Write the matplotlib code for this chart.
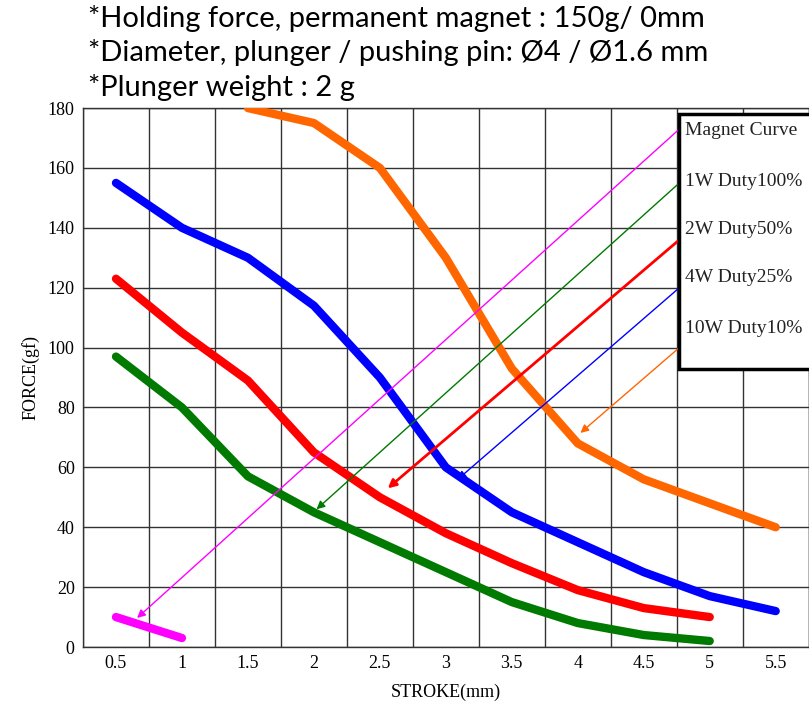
import numpy as np
import matplotlib
matplotlib.use('Agg')
import matplotlib.pyplot as plt
from matplotlib.patches import Rectangle

# stroke (mm) values
stroke = [0.5, 1, 1.5, 2, 2.5, 3, 3.5, 4, 4.5, 5, 5.5]
stroke_labels = ['0.5', '1', '1.5', '2', '2.5', '3', '3.5', '4', '4.5', '5', '5.5']

# force (gf) curves
magnet_x = [0.5, 1]
magnet_y = [10, 3]
w1_x = [0.5, 1, 1.5, 2, 2.5, 3, 3.5, 4, 4.5, 5]
w1_y = [97, 80, 57, 45, 35, 25, 15, 8, 4, 2]
w2_x = [0.5, 1, 1.5, 2, 2.5, 3, 3.5, 4, 4.5, 5]
w2_y = [123, 105, 89, 65, 50, 38, 28, 19, 13, 10]
w4_x = [0.5, 1, 1.5, 2, 2.5, 3, 3.5, 4, 4.5, 5, 5.5]
w4_y = [155, 140, 130, 114, 90, 60, 45, 35, 25, 17, 12]
w10_x = [1.5, 2, 2.5, 3, 3.5, 4, 4.5, 5, 5.5]
w10_y = [180, 175, 160, 130, 93, 68, 56, 48, 40]

labels = ['Magnet Curve', '1W Duty100%', '2W Duty50%', '4W Duty25%', '10W Duty10%']
colors = ['#FF00FF', '#007A00', '#FF0000', '#0000FF', '#FF6600']

# arrows from legend to curves (start y, end x, end y)
arrow_start_y = [173, 155, 136, 120, 100]
arrow_end = [(0.66, 9.7), (2.02, 46), (2.56, 53), (3.09, 56), (4.02, 71.5)]
arrow_lw = [1, 1, 2, 1, 1]
legend_edge_x = 4.77

fig = plt.figure(figsize=(8.09, 7.11), dpi=100)
ax = fig.add_axes([0.1026, 0.09, 0.8970, 0.758])

series = [(magnet_x, magnet_y), (w1_x, w1_y), (w2_x, w2_y), (w4_x, w4_y), (w10_x, w10_y)]
for (xs, ys), c in zip(series, colors):
    ax.plot(xs, ys, color=c, lw=6, solid_capstyle='round', solid_joinstyle='round', zorder=3)

for sy, (ex, ey), c, lw in zip(arrow_start_y, arrow_end, colors, arrow_lw):
    ax.annotate('', xy=(ex, ey), xytext=(legend_edge_x, sy),
                arrowprops=dict(arrowstyle='-|>', color=c, lw=lw, mutation_scale=12,
                                shrinkA=0, shrinkB=0), zorder=4)

ax.set_xlim(0.25, 5.75)
ax.set_ylim(0, 180)
ax.set_xticks(stroke, stroke_labels)
ax.set_xticks(np.arange(0.25, 5.8, 0.5), minor=True)
ax.set_yticks(np.arange(0, 181, 20))
ax.grid(True, which='minor', axis='x', color='#333333', lw=1)
ax.grid(True, which='major', axis='y', color='#333333', lw=1)
ax.tick_params(which='both', length=0, labelsize=13, pad=6)
for lab in ax.get_xticklabels() + ax.get_yticklabels():
    lab.set_fontfamily('Liberation Serif')
for s in ax.spines.values():
    s.set_color('#333333')
    s.set_linewidth(1)

ax.set_xlabel('STROKE(mm)', fontfamily='Liberation Serif', fontsize=13, labelpad=8)
ax.set_ylabel('FORCE(gf)', fontfamily='Liberation Serif', fontsize=13, labelpad=6)

# legend box
box = Rectangle((legend_edge_x, 93), 1.2, 85, facecolor='white', edgecolor='black',
                lw=2.5, zorder=5, clip_on=False)
ax.add_patch(box)
text_y = [172.5, 155.5, 139.5, 123.5, 106.5]
for t, ty in zip(labels, text_y):
    ax.text(legend_edge_x + 0.04, ty, t, fontfamily='Liberation Serif', fontsize=14,
            va='center', ha='left', zorder=6, color='#222222')

notes = ['*Holding force, permanent magnet : 150g/ 0mm',
         '*Diameter, plunger / pushing pin: Ø4 / Ø1.6 mm',
         '*Plunger weight : 2 g']
baselines = [27, 61, 96]
for n, b in zip(notes, baselines):
    fig.text(88 / 809, 1 - b / 711, n, fontfamily='Lato', fontsize=21,
             va='baseline', ha='left')

fig.savefig('out.png', dpi=100)
